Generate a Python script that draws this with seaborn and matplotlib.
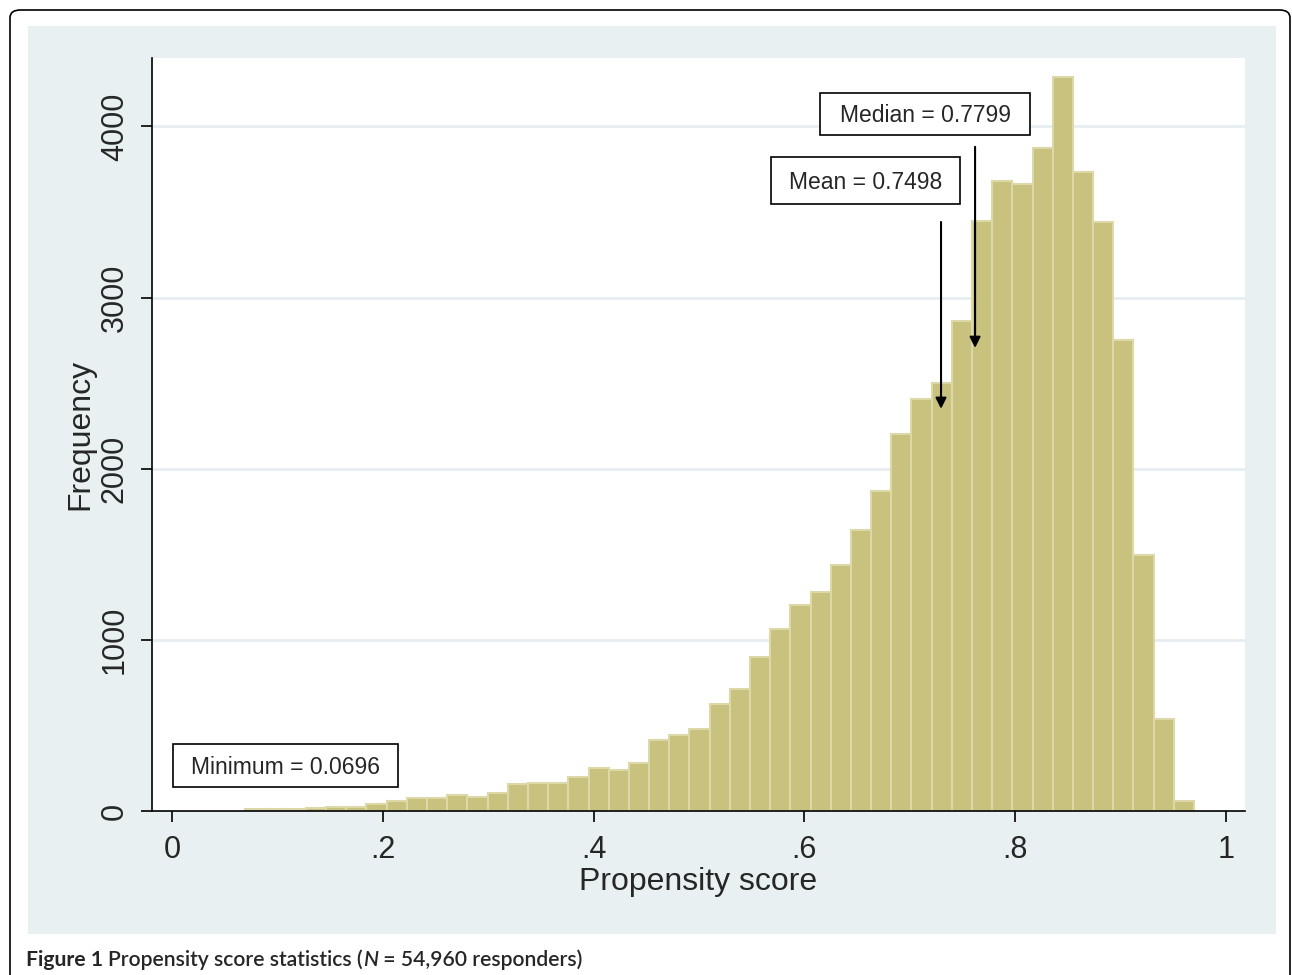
import numpy as np
import pandas as pd
import seaborn as sns
import matplotlib.pyplot as plt
from matplotlib.patches import Rectangle, FancyBboxPatch

# histogram counts (47 bins from the minimum)
bin_start = 0.0696
bin_width = 0.01915
counts = [12, 12, 12, 18, 25, 25, 40, 58, 76, 76,
          94, 82, 105, 158, 164, 164, 199, 251, 240, 281,
          415, 444, 480, 626, 713, 901, 1064, 1205, 1281, 1439,
          1643, 1871, 2205, 2409, 2503, 2865, 3450, 3684, 3661, 3877,
          4287, 3731, 3444, 2754, 1497, 538, 58]
x_ticks = [0, 0.2, 0.4, 0.6, 0.8, 1.0]
x_labels = ['0', '.2', '.4', '.6', '.8', '1']
y_ticks = [0, 1000, 2000, 3000, 4000]
stat_min = 0.0696
stat_mean = 0.7498
stat_median = 0.7799

edges = bin_start + bin_width * np.arange(len(counts) + 1)
df = pd.DataFrame({'score': (edges[:-1] + edges[1:]) / 2, 'n': counts})

sns.set_style('white')
plt.rcParams['font.family'] = ['Liberation Sans', 'DejaVu Sans']

fig = plt.figure(figsize=(12.92, 9.75), dpi=100)
fig.patch.set_facecolor('white')

# outer frame and bluish panel
fig.patches.append(FancyBboxPatch((10 / 1292, -0.1), (1290 - 10) / 1292, (975 - 10) / 975 + 0.1,
                                  boxstyle='round,pad=0,rounding_size=0.008',
                                  transform=fig.transFigure, fc='none', ec='black', lw=1.2))
fig.patches.append(Rectangle((28 / 1292, (975 - 934) / 975), (1276 - 28) / 1292, (934 - 26) / 975,
                             transform=fig.transFigure, fc='#e8f0f2', ec='none', zorder=0))

ax = fig.add_axes([152 / 1292, (975 - 811) / 975, (1245 - 152) / 1292, (811 - 58) / 975])
ax.set_facecolor('white')
ax.set_zorder(1)

sns.histplot(data=df, x='score', weights='n', bins=edges.tolist(), ax=ax,
             color='#c9c27e', edgecolor='#ddd8a8', linewidth=1.5, alpha=1, zorder=2)

for y in y_ticks[1:]:
    ax.axhline(y, color='#e6eef1', lw=2, zorder=1)

ax.set_xlim(-0.019, 1.018)
ax.set_ylim(0, 4400)
ax.set_xticks(x_ticks)
ax.set_xticklabels(x_labels, fontsize=22)
ax.set_yticks(y_ticks)
ax.set_yticklabels([str(v) for v in y_ticks], fontsize=22, rotation=90, va='center')
ax.tick_params(axis='both', direction='out', length=8, width=1.2, color='black', left=True, bottom=True)
ax.tick_params(axis='x', pad=9)
ax.tick_params(axis='y', pad=8)
for s in ['top', 'right']:
    ax.spines[s].set_visible(False)
for s in ['left', 'bottom']:
    ax.spines[s].set_color('black')
    ax.spines[s].set_linewidth(1.2)
ax.set_xlabel('Propensity score', fontsize=23)
ax.set_ylabel('Frequency', fontsize=23)
ax.xaxis.set_label_coords(0.4995, -0.075)
ax.yaxis.set_label_coords(-0.052, 0.5)

# stat boxes
def stat_box(x0, x1, y0, y1, label):
    ax.add_patch(Rectangle((x0, y0), x1 - x0, y1 - y0, fc='white', ec='black', lw=1.2, zorder=5))
    ax.text((x0 + x1) / 2, (y0 + y1) / 2 - 10, label, ha='center', va='center', fontsize=16.5, zorder=6)

stat_box(0.6148, 0.814, 3951, 4196, f'Median = {stat_median:.4f}')
stat_box(0.5683, 0.7476, 3548, 3822, f'Mean = {stat_mean:.4f}')
stat_box(0.001, 0.2144, 140, 392, f'Minimum = {stat_min:.4f}')

arrow = dict(arrowstyle='-|>', color='black', lw=1.5, mutation_scale=16, shrinkA=0, shrinkB=0)
ax.annotate('', xy=(0.7619, 2706), xytext=(0.7619, 3881), arrowprops=arrow, zorder=6)
ax.annotate('', xy=(0.7296, 2350), xytext=(0.7296, 3442), arrowprops=arrow, zorder=6)

# caption in pieces
fig.canvas.draw()
r = fig.canvas.get_renderer()
cap_y = (975 - 960) / 975
pieces = [('Figure 1 ', 'bold', 'normal'), ('Propensity score statistics (', 'semibold', 'normal'),
          ('N', 'semibold', 'italic'), (' = 54,960 responders)', 'semibold', 'normal')]
cx = 26 / 1292
for txt, wt, st in pieces:
    t = fig.text(cx, cap_y, txt, fontsize=15.2, fontweight=wt, fontstyle=st,
                 family=['Lato', 'DejaVu Sans'], va='center', ha='left')
    bb = t.get_window_extent(renderer=r)
    cx += bb.width / fig.bbox.width

fig.savefig('out.png', dpi=100)
